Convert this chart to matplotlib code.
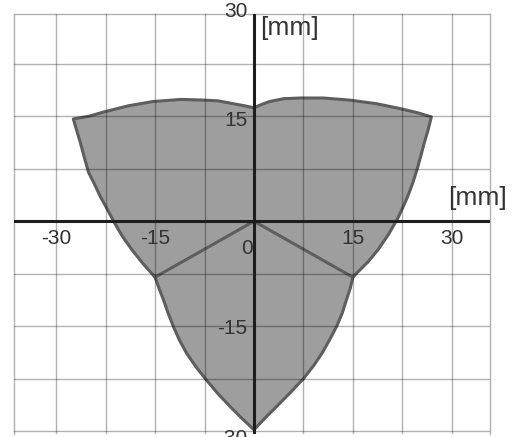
import matplotlib
matplotlib.use("Agg")
import matplotlib.pyplot as plt

plt.rcParams['font.family'] = ['Liberation Sans', 'DejaVu Sans']

# Outline of the reachable area [mm] (clockwise from top-left corner)
outline_x = [-27.4, -25.0, -22.8, -19.0, -15.3, -11.0, -7.7, -5.5, -3.2, -1.5, 0.0,
             1.2, 2.4, 4.5, 7.0, 10.5, 14.5, 18.5, 22.1, 24.8, 26.9,
             26.4, 25.8, 25.3, 24.8, 24.1, 23.3, 22.6, 21.8, 20.4, 18.8, 17.3, 15.6, 15.0,
             14.6, 14.0, 13.4, 12.6, 11.5, 10.3, 9.0, 7.5, 5.5, 3.4, 1.7, 0.0,
             -1.8, -3.6, -5.5, -7.2, -8.8, -10.2, -11.3, -12.2, -13.0, -13.7, -14.4, -15.0,
             -16.8, -18.5, -20.0, -21.3, -22.3, -23.3, -24.2, -25.1, -25.7, -26.3, -26.9]
outline_y = [14.6, 15.0, 15.6, 16.5, 17.1, 17.4, 17.3, 17.2, 16.8, 16.5, 16.2,
             16.7, 17.1, 17.5, 17.6, 17.6, 17.3, 16.8, 16.1, 15.5, 14.9,
             13.0, 11.1, 9.3, 7.6, 5.5, 3.5, 2.0, 0.4, -1.9, -4.1, -5.8, -7.4, -8.0,
             -9.6, -11.3, -13.1, -14.9, -16.9, -18.9, -20.7, -22.5, -24.5, -26.5, -28.1, -29.8,
             -28.2, -26.5, -24.6, -22.7, -20.8, -18.9, -17.0, -15.1, -13.2, -11.3, -9.6, -8.0,
             -6.1, -4.1, -2.1, 0.0, 1.8, 3.5, 5.3, 7.0, 9.0, 11.1, 13.0]

# Inner division lines: junction -> origin -> junction
inner_x = [-15.0, 0.0, 15.0]
inner_y = [-8.0, 0.0, -8.0]

x_ticks = [-30, -15, 0, 15, 30]
y_ticks = [30, 15, -15, -30]
grid_steps = [-30, -22.5, -15, -7.5, 7.5, 15, 22.5, 30]
unit_label = "[mm]"

fig = plt.figure(figsize=(5.13, 4.37), dpi=100)
ax = fig.add_axes([14 / 513, 1 - 434 / 437, 476 / 513, 420 / 437])
ax.set_xlim(-36.4, 35.8)
ax.set_ylim(-30.4, 29.6)
ax.set_xticks([])
ax.set_yticks([])
for side in ['left', 'right', 'top']:
    ax.spines[side].set_color('#b0b0b0')
    ax.spines[side].set_linewidth(1.0)
ax.spines['bottom'].set_visible(False)

# shaded area
ax.fill(outline_x, outline_y, facecolor='#9e9e9e', edgecolor='#5e5e5e',
        linewidth=2.2, joinstyle='round', zorder=2)
ax.plot(inner_x, inner_y, color='#5e5e5e', linewidth=2.2, zorder=3)

# grid on top of the shading
for g in grid_steps:
    if -36.4 < g < 35.8:
        ax.axvline(g, color='black', alpha=0.3, linewidth=1.0, zorder=4)
    if -30.4 < g < 29.6:
        ax.axhline(g, color='black', alpha=0.3, linewidth=1.0, zorder=4)

# main axes
ax.axhline(0, color='#1e1e1e', linewidth=2.2, zorder=5)
ax.axvline(0, color='#1e1e1e', linewidth=2.2, zorder=5)

txt_color = '#333333'
for v in x_ticks:
    if v == 0:
        ax.text(-1.0, -3.9, str(v), ha='center', va='center', fontsize=15,
                color=txt_color, zorder=6, clip_on=False)
    else:
        ax.text(v, -2.4, str(v), ha='center', va='center', fontsize=15,
                color=txt_color, zorder=6, clip_on=False)
y_pos = {30: 30.0, 15: 14.4, -15: -15.4, -30: -31.0}
for v in y_ticks:
    ax.text(-1.0, y_pos[v], str(v), ha='right', va='center', fontsize=15,
            color=txt_color, zorder=6, clip_on=False)

ax.text(0.9, 27.6, unit_label, ha='left', va='center', fontsize=19,
        color=txt_color, zorder=6, clip_on=False)
ax.text(29.4, 3.3, unit_label, ha='left', va='center', fontsize=19,
        color=txt_color, zorder=6, clip_on=False)

fig.savefig('out.png', dpi=100)
